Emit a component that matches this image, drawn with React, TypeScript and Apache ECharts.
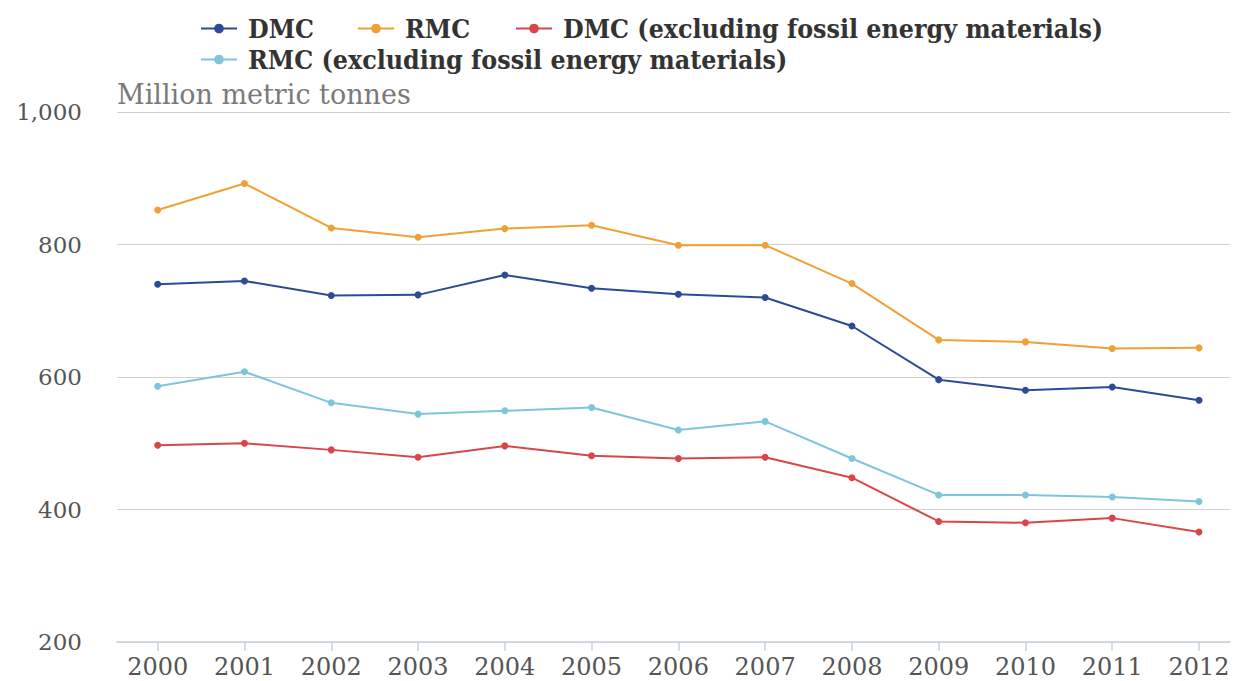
import React, { useEffect, useRef } from "react";
import * as echarts from "echarts";

const years = [2000, 2001, 2002, 2003, 2004, 2005, 2006, 2007, 2008, 2009, 2010, 2011, 2012];
const dmc = [740, 745, 723, 724, 754, 734, 725, 720, 677, 596, 580, 585, 565];
const rmc = [852, 892, 825, 811, 824, 829, 799, 799, 741, 656, 653, 643, 644];
const dmcExFossil = [497, 500, 490, 479, 496, 481, 477, 479, 448, 382, 380, 387, 366];
const rmcExFossil = [586, 608, 561, 544, 549, 554, 520, 533, 477, 422, 422, 419, 412];
const yTicks = [200, 400, 600, 800, 1000];

const seriesNames = [
  "DMC",
  "RMC",
  "DMC (excluding fossil energy materials)",
  "RMC (excluding fossil energy materials)",
];
const colors = ["#2d4a94", "#f0a035", "#d9464a", "#7dc6da"];
const seriesData = [dmc, rmc, dmcExFossil, rmcExFossil];

export default function App() {
  const ref = useRef<HTMLDivElement>(null);
  useEffect(() => {
    document.body.style.margin = "0";
    const chart = echarts.init(ref.current!, null, { renderer: "svg" });
    const legendFont = {
      fontFamily: "DejaVu Serif Condensed, DejaVu Serif",
      fontWeight: "bold" as const,
      fontSize: 26.5,
      color: "#333",
      padding: [0, 0, 0, 6],
    };
    const legendPos = [
      { left: 195, top: 10 },
      { left: 352, top: 10 },
      { left: 510, top: 10 },
      { left: 195, top: 41 },
    ];
    chart.setOption({
      animation: false,
      color: colors,
      legend: seriesNames.map((n, i) => ({
        data: [n],
        ...legendPos[i],
        itemWidth: 36,
        itemHeight: 12,
        textStyle: legendFont,
        selectedMode: false,
      })),
      grid: { left: 117, right: 3, top: 112, bottom: 39, containLabel: false },
      xAxis: {
        type: "value",
        min: 1999.531,
        max: 2012.357,
        splitLine: { show: false },
        axisLine: { show: true, lineStyle: { color: "#c9d2dd", width: 1.5 } },
        axisTick: {
          show: true,
          customValues: years,
          length: 9,
          lineStyle: { color: "#c9d2dd", width: 1.5 },
        },
        axisLabel: {
          customValues: years,
          formatter: (v: number) => String(v),
          fontFamily: "DejaVu Serif",
          fontSize: 24,
          color: "#555",
          margin: 13,
        },
      },
      yAxis: {
        type: "value",
        min: yTicks[0],
        max: yTicks[yTicks.length - 1],
        interval: 200,
        axisLine: { show: false },
        axisTick: { show: false },
        splitLine: { lineStyle: { color: "#d0d0d0", width: 1.2 } },
        axisLabel: {
          formatter: (v: number) => v.toLocaleString("en-US"),
          fontFamily: "DejaVu Serif",
          fontSize: 23,
          color: "#555",
          margin: 35,
        },
      },
      graphic: [
        {
          type: "text",
          left: 117,
          top: 81,
          style: {
            text: "Million metric tonnes",
            fontFamily: "DejaVu Serif",
            fontSize: 27,
            fill: "#7a7a7a",
          },
        },
      ],
      series: seriesNames.map((n, i) => ({
        name: n,
        type: "line",
        data: years.map((y, j) => [y, seriesData[i][j]]),
        symbol: "circle",
        symbolSize: 7,
        lineStyle: { width: 2, color: colors[i] },
        itemStyle: { color: colors[i] },
      })),
    });
    return () => chart.dispose();
  }, []);
  return <div ref={ref} style={{ width: 1233, height: 681 }} />;
}
